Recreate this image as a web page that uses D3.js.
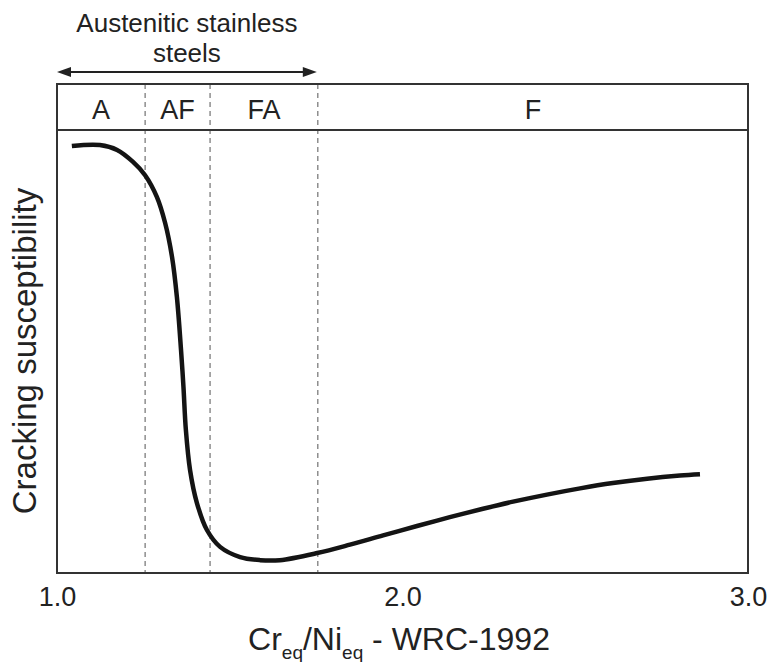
<!DOCTYPE html>
<html lang="en">
<head>
<meta charset="utf-8">
<title>Cracking susceptibility vs Creq/Nieq</title>
<script src="https://cdn.jsdelivr.net/npm/d3@7/dist/d3.min.js"></script>
<style>
  body { margin: 0; background: #fff; }
  svg { font-family: "Liberation Sans", Arial, Helvetica, sans-serif; }
</style>
</head>
<body>
<svg width="769" height="662"></svg>
<script>
// curve (x = Creq/Nieq, y = relative susceptibility 0..10)
var curveX = [1.043, 1.124, 1.174, 1.220, 1.255, 1.289, 1.313, 1.333, 1.347, 1.359, 1.366, 1.373,
              1.385, 1.405, 1.434, 1.472, 1.530, 1.588, 1.645, 1.753, 1.848, 1.944, 2.042, 2.137,
              2.233, 2.320, 2.418, 2.514, 2.609, 2.708, 2.803, 2.861];
var curveY = [9.64, 9.66, 9.55, 9.28, 8.98, 8.49, 7.90, 7.13, 6.23, 5.03, 4.20, 3.23,
              2.33, 1.58, 0.97, 0.59, 0.36, 0.29, 0.29, 0.45, 0.64, 0.85, 1.06, 1.26,
              1.45, 1.61, 1.77, 1.91, 2.03, 2.13, 2.20, 2.23];

// phase region boundaries and labels
var bounds = [1.255, 1.443, 1.755];
var regions = ["A", "AF", "FA", "F"];
var xTicks = [1.0, 2.0, 3.0];
var arrowRange = [1.0, 1.752];
var arrowLabel = ["Austenitic stainless", "steels"];

var svg = d3.select("svg");
var left = 57, right = 748, topY = 84, bandBottom = 130, bottom = 573;

var x = d3.scaleLinear().domain([1, 3]).range([left, right]);
var y = d3.scaleLinear().domain([0, 10]).range([bottom, bandBottom]);

// dashed region boundaries
svg.selectAll(".bound")
   .data(bounds)
   .enter().append("line")
   .attr("class", "bound")
   .attr("x1", function(d) { return x(d); })
   .attr("x2", function(d) { return x(d); })
   .attr("y1", topY)
   .attr("y2", bottom)
   .attr("stroke", "#555")
   .attr("stroke-width", 1)
   .attr("stroke-dasharray", "5,4");

// frame + band line
svg.append("rect")
   .attr("x", left).attr("y", topY)
   .attr("width", right - left).attr("height", bottom - topY)
   .attr("fill", "none").attr("stroke", "#333").attr("stroke-width", 2);
svg.append("line")
   .attr("x1", left).attr("x2", right)
   .attr("y1", bandBottom).attr("y2", bandBottom)
   .attr("stroke", "#333").attr("stroke-width", 2);

// region labels
var edges = [1].concat(bounds).concat([3]);
svg.selectAll(".region")
   .data(regions)
   .enter().append("text")
   .attr("class", "region")
   .attr("x", function(d, i) { return (x(edges[i]) + x(edges[i + 1])) / 2; })
   .attr("y", 119)
   .attr("text-anchor", "middle")
   .style("font-size", "27px")
   .attr("fill", "#222")
   .text(function(d) { return d; });

// curve
var pts = curveX.map(function(d, i) { return [d, curveY[i]]; });
var line = d3.line()
   .x(function(d) { return x(d[0]); })
   .y(function(d) { return y(d[1]); })
   .curve(d3.curveCatmullRom.alpha(0.5));
svg.append("path")
   .datum(pts)
   .attr("d", line)
   .attr("fill", "none")
   .attr("stroke", "#141414")
   .attr("stroke-width", 4.5);

// x axis ticks
var xAxis = svg.append("g")
   .attr("transform", "translate(0," + bottom + ")")
   .call(d3.axisBottom(x).tickValues(xTicks).tickSize(0).tickPadding(14).tickFormat(d3.format(".1f")));
xAxis.select(".domain").remove();
xAxis.selectAll("text")
   .style("font-size", "27px")
   .style("font-family", "'Liberation Sans', Arial, sans-serif")
   .attr("fill", "#222");

// x title with subscripts
var xt = svg.append("text")
   .attr("x", 399).attr("y", 650)
   .attr("text-anchor", "middle")
   .style("font-size", "32px")
   .attr("fill", "#222");
xt.append("tspan").text("Cr");
xt.append("tspan").attr("dy", 9).style("font-size", "19px").text("eq");
xt.append("tspan").attr("dy", -9).text("/Ni");
xt.append("tspan").attr("dy", 9).style("font-size", "19px").text("eq");
xt.append("tspan").attr("dy", -9).text(" - WRC-1992");

// y title
svg.append("text")
   .attr("transform", "translate(36,351) rotate(-90)")
   .attr("text-anchor", "middle")
   .style("font-size", "33px")
   .attr("fill", "#222")
   .text("Cracking susceptibility");

// double arrow over austenitic range
var ay = 72;
svg.append("line")
   .attr("x1", x(arrowRange[0]) + 8).attr("x2", x(arrowRange[1]) - 8)
   .attr("y1", ay).attr("y2", ay)
   .attr("stroke", "#222").attr("stroke-width", 2);
[[arrowRange[0], 1], [arrowRange[1], -1]].forEach(function(a) {
  var px = x(a[0]), s = a[1];
  svg.append("path")
     .attr("d", "M" + px + "," + ay + "L" + (px + 14 * s) + "," + (ay - 5) + "L" + (px + 14 * s) + "," + (ay + 5) + "Z")
     .attr("fill", "#222");
});
var ax = (x(arrowRange[0]) + x(arrowRange[1])) / 2;
svg.selectAll(".alabel")
   .data(arrowLabel)
   .enter().append("text")
   .attr("class", "alabel")
   .attr("x", ax)
   .attr("y", function(d, i) { return 32 + i * 30; })
   .attr("text-anchor", "middle")
   .style("font-size", "26px")
   .attr("fill", "#222")
   .text(function(d) { return d; });
</script>
</body>
</html>
